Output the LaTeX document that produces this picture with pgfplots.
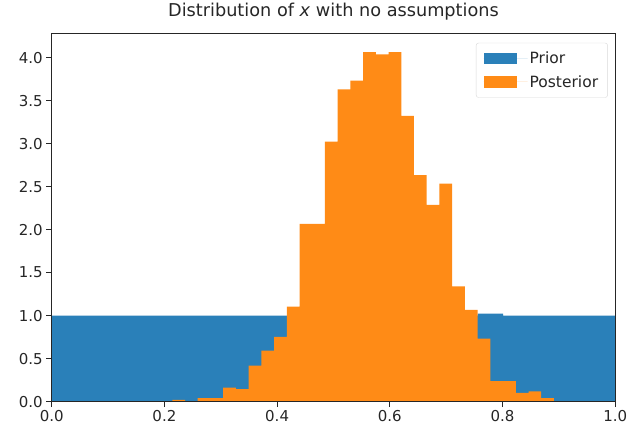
\documentclass[border=0pt]{standalone}
\usepackage{fontspec}
\setmainfont{DejaVu Sans}
\usepackage{pgfplots}
\pgfplotsset{compat=1.18}
\definecolor{priorblue}{RGB}{42,128,185}
\definecolor{postorange}{RGB}{255,139,22}
\begin{document}
\begin{tikzpicture}
\begin{axis}[
  name=ax, at={(0,0)}, anchor=south west,
  scale only axis, width=563.8pt, height=367.7pt,
  xmin=0, xmax=1, ymin=0, ymax=4.276,
  xtick={0,0.2,0.4,0.6,0.8,1.0},
  ytick={0,0.5,1.0,1.5,2.0,2.5,3.0,3.5,4.0},
  tick pos=left, tick align=outside, major tick length=5.5pt,
  every tick/.style={black!85, line width=1pt},
  axis line style={black!85, line width=1pt},
  axis on top,
  tick label style={font=\fontsize{15}{16}\selectfont, text=black!85},
  /pgf/number format/fixed, /pgf/number format/fixed zerofill,
  /pgf/number format/precision=1, /pgf/number format/assume math mode=true,
  title={Distribution of \textit{x} with no assumptions},
  title style={font=\fontsize{17.7}{20}\selectfont, text=black!85, anchor=base, at={(0.5,1)}, yshift=11.5pt},
  legend style={at={(0.9867,0.976)}, anchor=north east, draw=black!15, rounded corners=2.5pt,
    font=\fontsize{15.5}{18}\selectfont, text=black!85, fill=white, inner xsep=7.5pt, inner ysep=7pt,
    row sep=6pt, cells={anchor=west}},
  legend image code/.code={\fill[#1, sharp corners] (0pt,-5.8pt) rectangle (33pt,5.8pt); \path (0pt,0pt) -- (44pt,0pt);},
]
\addplot[const plot, fill=priorblue, draw=none] coordinates {
(0,1.0)(0.7557,1.023)(0.8008,1.0)(1.0,1.0)} \closedcycle;
\addlegendentry{Prior}
\addplot[const plot, fill=postorange, draw=none] coordinates {
(0.2140,0.02)(0.2366,0)(0.2591,0.04)(0.2817,0.04)(0.3043,0.163)(0.3268,0.144)
(0.3494,0.419)(0.3720,0.593)(0.3946,0.752)(0.4171,1.105)(0.4397,2.066)(0.4623,2.066)
(0.4848,3.023)(0.5074,3.633)(0.5300,3.733)(0.5525,4.066)(0.5751,4.04)(0.5977,4.066)
(0.6203,3.322)(0.6428,2.633)(0.6654,2.287)(0.6880,2.535)(0.7105,1.341)(0.7331,1.066)
(0.7557,0.733)(0.7783,0.237)(0.8008,0.237)(0.8234,0.101)(0.8460,0.12)(0.8685,0.039)
(0.8911,0.039)} \closedcycle;
\addlegendentry{Posterior}
\end{axis}
\pgfresetboundingbox
\path[use as bounding box] (-51.7pt,-31.3pt) rectangle (577.5pt,401.7pt);
\end{tikzpicture}
\end{document}
